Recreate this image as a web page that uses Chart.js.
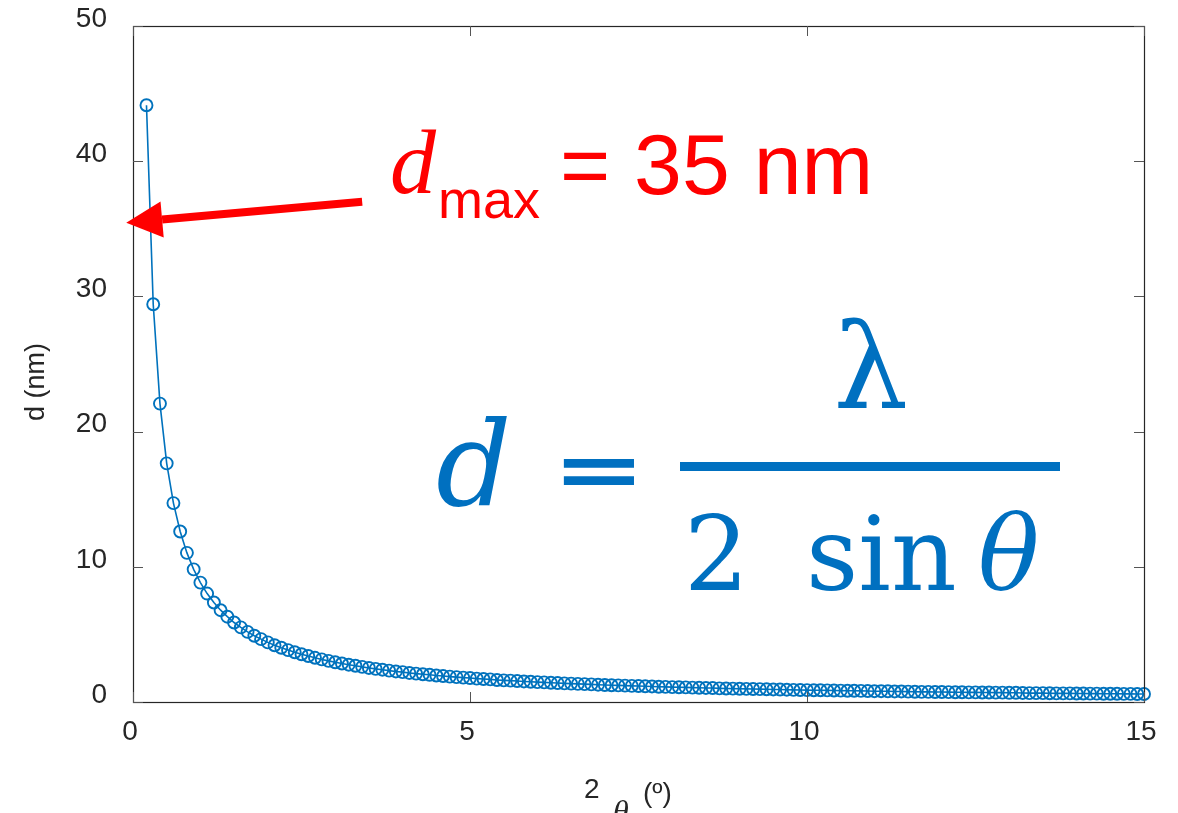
<!DOCTYPE html>
<html>
<head>
<meta charset="utf-8">
<title>d vs 2θ</title>
<script src="https://cdn.jsdelivr.net/npm/chart.js@4.4.1/dist/chart.umd.min.js"></script>
<style>
  html, body { margin: 0; padding: 0; background: #fff; }
  #wrap { width: 1178px; height: 813px; position: relative; }
</style>
</head>
<body>
<div id="wrap"><canvas id="braggChart"></canvas></div>
<script>
// 2θ in degrees and the matching d-spacing in nm
const twoTheta = [
  0.2, 0.3, 0.4, 0.5, 0.6, 0.7, 0.8, 0.9, 1.0, 1.1, 1.2, 1.3, 1.4, 1.5, 1.6, 1.7, 1.8, 1.9, 2.0,
  2.1, 2.2, 2.3, 2.4, 2.5, 2.6, 2.7, 2.8, 2.9, 3.0, 3.1, 3.2, 3.3, 3.4, 3.5, 3.6, 3.7, 3.8, 3.9, 4.0,
  4.1, 4.2, 4.3, 4.4, 4.5, 4.6, 4.7, 4.8, 4.9, 5.0, 5.1, 5.2, 5.3, 5.4, 5.5, 5.6, 5.7, 5.8, 5.9, 6.0,
  6.1, 6.2, 6.3, 6.4, 6.5, 6.6, 6.7, 6.8, 6.9, 7.0, 7.1, 7.2, 7.3, 7.4, 7.5, 7.6, 7.7, 7.8, 7.9, 8.0,
  8.1, 8.2, 8.3, 8.4, 8.5, 8.6, 8.7, 8.8, 8.9, 9.0, 9.1, 9.2, 9.3, 9.4, 9.5, 9.6, 9.7, 9.8, 9.9, 10.0,
  10.1, 10.2, 10.3, 10.4, 10.5, 10.6, 10.7, 10.8, 10.9, 11.0, 11.1, 11.2, 11.3, 11.4, 11.5, 11.6, 11.7, 11.8, 11.9, 12.0,
  12.1, 12.2, 12.3, 12.4, 12.5, 12.6, 12.7, 12.8, 12.9, 13.0, 13.1, 13.2, 13.3, 13.4, 13.5, 13.6, 13.7, 13.8, 13.9, 14.0,
  14.1, 14.2, 14.3, 14.4, 14.5, 14.6, 14.7, 14.8, 14.9, 15.0
];
const dSpacing = [
  44.14, 29.42, 22.07, 17.65, 14.71, 12.61, 11.03, 9.81, 8.83, 8.02, 7.36, 6.79, 6.31, 5.88, 5.52, 5.19, 4.90, 4.65, 4.41,
  4.20, 4.01, 3.84, 3.68, 3.53, 3.40, 3.27, 3.15, 3.04, 2.94, 2.85, 2.76, 2.68, 2.60, 2.52, 2.45, 2.39, 2.32, 2.26, 2.21,
  2.15, 2.10, 2.05, 2.01, 1.96, 1.92, 1.88, 1.84, 1.80, 1.77, 1.73, 1.70, 1.67, 1.63, 1.60, 1.58, 1.55, 1.52, 1.50, 1.47,
  1.45, 1.42, 1.40, 1.38, 1.36, 1.34, 1.32, 1.30, 1.28, 1.26, 1.24, 1.23, 1.21, 1.19, 1.18, 1.16, 1.15, 1.13, 1.12, 1.10,
  1.09, 1.08, 1.06, 1.05, 1.04, 1.03, 1.01, 1.00, 0.99, 0.98, 0.97, 0.96, 0.95, 0.94, 0.93, 0.92, 0.91, 0.90, 0.89, 0.88,
  0.87, 0.87, 0.86, 0.85, 0.84, 0.83, 0.83, 0.82, 0.81, 0.80, 0.80, 0.79, 0.78, 0.78, 0.77, 0.76, 0.75, 0.75, 0.74, 0.74,
  0.73, 0.72, 0.72, 0.71, 0.71, 0.70, 0.70, 0.69, 0.69, 0.68, 0.68, 0.67, 0.66, 0.66, 0.66, 0.65, 0.64, 0.64, 0.64, 0.63,
  0.63, 0.62, 0.62, 0.61, 0.61, 0.61, 0.60, 0.60, 0.59, 0.59
];
const xTicks = [0, 5, 10, 15];
const yTicks = [0, 10, 20, 30, 40, 50];

// arrow towards the axis, in data units (tail -> tip)
const arrowTail = { x: 3.4, y: 37.0 };
const arrowTip = { x: -0.1, y: 35.45 };

const AXIS_COLOR = '#262626';
const LINE_BLUE = '#0072BD';
const TEXT_BLUE = '#0070C0';

const points = twoTheta.map((t, i) => ({ x: t, y: dSpacing[i] }));

// no extra room for the outer tick labels, the plot box is placed by layout.padding
const noScalePadding = (s) => {
    s.paddingTop = 0; s.paddingBottom = 0; s.paddingLeft = 0; s.paddingRight = 0;
};

const decorPlugin = {
    id: 'decor',
    afterDraw(chart) {
        const ctx = chart.ctx;
        const area = chart.chartArea;
        const xs = chart.scales.x;
        const ys = chart.scales.y;
        ctx.save();

        // box around the plot
        ctx.strokeStyle = AXIS_COLOR;
        ctx.lineWidth = 1.2;
        ctx.strokeRect(area.left + 0.5, area.top + 0.5, area.right - area.left, area.bottom - area.top);

        // inward ticks on all four sides
        const tickLen = 10;
        ctx.strokeStyle = '#555';
        ctx.lineWidth = 1;
        ctx.beginPath();
        xTicks.forEach(v => {
            const px = Math.round(xs.getPixelForValue(v)) + 0.5;
            ctx.moveTo(px, area.bottom); ctx.lineTo(px, area.bottom - tickLen);
            ctx.moveTo(px, area.top); ctx.lineTo(px, area.top + tickLen);
        });
        yTicks.forEach(v => {
            const py = Math.round(ys.getPixelForValue(v)) + 0.5;
            ctx.moveTo(area.left, py); ctx.lineTo(area.left + tickLen, py);
            ctx.moveTo(area.right, py); ctx.lineTo(area.right - tickLen, py);
        });
        ctx.stroke();

        // axis titles
        ctx.fillStyle = AXIS_COLOR;
        ctx.textBaseline = 'alphabetic';
        ctx.save();
        ctx.translate(44, 382);
        ctx.rotate(-Math.PI / 2);
        ctx.textAlign = 'center';
        ctx.font = '27px "Liberation Sans", Arial, sans-serif';
        ctx.fillText('d (nm)', 0, 0);
        ctx.restore();

        ctx.textAlign = 'left';
        ctx.font = '28px "Liberation Sans", Arial, sans-serif';
        ctx.fillText('2', 584, 798);
        ctx.font = 'italic 32px "Liberation Serif", serif';
        ctx.fillText('θ', 613, 822);
        ctx.font = '28px "Liberation Sans", Arial, sans-serif';
        ctx.fillText('(º)', 643, 802);

        // red arrow pointing at the axis
        const tx = xs.getPixelForValue(arrowTail.x), ty = ys.getPixelForValue(arrowTail.y);
        const hx = xs.getPixelForValue(arrowTip.x), hy = ys.getPixelForValue(arrowTip.y);
        const ang = Math.atan2(hy - ty, hx - tx);
        const headLen = 36, headHalf = 18;
        const bx = hx - headLen * Math.cos(ang), by = hy - headLen * Math.sin(ang);
        ctx.strokeStyle = '#FF0000';
        ctx.fillStyle = '#FF0000';
        ctx.lineWidth = 8;
        ctx.lineCap = 'butt';
        ctx.beginPath();
        ctx.moveTo(tx, ty);
        ctx.lineTo(bx, by);
        ctx.stroke();
        ctx.beginPath();
        ctx.moveTo(hx, hy);
        ctx.lineTo(bx + headHalf * Math.sin(ang), by - headHalf * Math.cos(ang));
        ctx.lineTo(bx - headHalf * Math.sin(ang), by + headHalf * Math.cos(ang));
        ctx.closePath();
        ctx.fill();

        // d_max label
        ctx.font = 'italic 92px "Liberation Serif", serif';
        ctx.fillText('d', 390, 193);
        ctx.font = '54px "Liberation Sans", Arial, sans-serif';
        ctx.fillText('max', 438, 218);
        ctx.font = '86px "Liberation Sans", Arial, sans-serif';
        ctx.fillText('= 35 nm', 560, 194);

        // Bragg relation
        ctx.fillStyle = TEXT_BLUE;
        ctx.font = 'italic 118px "DejaVu Serif", serif';
        ctx.fillText('d', 436, 505);
        // equals sign squeezed a little so its bars sit closer together
        ctx.save();
        ctx.translate(552, 470);
        ctx.scale(1.0, 0.7);
        ctx.font = 'bold 112px "DejaVu Serif", serif';
        ctx.fillText('=', 0, 38);
        ctx.restore();
        ctx.fillRect(680, 462, 380, 9);
        ctx.textAlign = 'center';
        ctx.font = '118px "DejaVu Serif", serif';
        ctx.fillText('λ', 871, 408);
        ctx.textAlign = 'left';
        ctx.font = '102px "DejaVu Serif", serif';
        ctx.fillText('2', 684, 590);
        ctx.fillText('sin', 806, 590);
        ctx.font = 'italic 102px "DejaVu Serif", serif';
        ctx.fillText('θ', 978, 590);

        ctx.restore();
    }
};

new Chart(document.getElementById('braggChart'), {
    type: 'line',
    data: {
        datasets: [{
            data: points,
            borderColor: LINE_BLUE,
            borderWidth: 1.6,
            backgroundColor: 'rgba(0,0,0,0)',
            pointStyle: 'circle',
            pointRadius: 6,
            pointBorderWidth: 1.9,
            pointBorderColor: LINE_BLUE,
            pointBackgroundColor: 'rgba(0,0,0,0)',
            tension: 0,
            clip: false
        }]
    },
    options: {
        responsive: true,
        maintainAspectRatio: false,
        devicePixelRatio: 1,
        animation: false,
        layout: { padding: { top: 26, right: 34, left: 0, bottom: 0 } },
        plugins: { legend: { display: false }, tooltip: { enabled: false } },
        scales: {
            x: {
                type: 'linear',
                min: 0,
                max: 15,
                afterFit: (s) => { s.height = 111; noScalePadding(s); },
                afterBuildTicks: (s) => { s.ticks = xTicks.map(v => ({ value: v })); },
                grid: { display: false, drawTicks: false },
                border: { display: false },
                ticks: {
                    color: AXIS_COLOR,
                    font: { size: 28, family: '"Liberation Sans", Arial, sans-serif' },
                    padding: 13,
                    labelOffset: -3,
                    maxRotation: 0
                }
            },
            y: {
                type: 'linear',
                min: 0,
                max: 50,
                afterFit: (s) => { s.width = 133; noScalePadding(s); },
                afterBuildTicks: (s) => { s.ticks = yTicks.map(v => ({ value: v })); },
                grid: { display: false, drawTicks: false },
                border: { display: false },
                ticks: {
                    color: AXIS_COLOR,
                    font: { size: 28, family: '"Liberation Sans", Arial, sans-serif' },
                    padding: 26,
                    labelOffset: -7
                }
            }
        }
    },
    plugins: [decorPlugin]
});
</script>
</body>
</html>
